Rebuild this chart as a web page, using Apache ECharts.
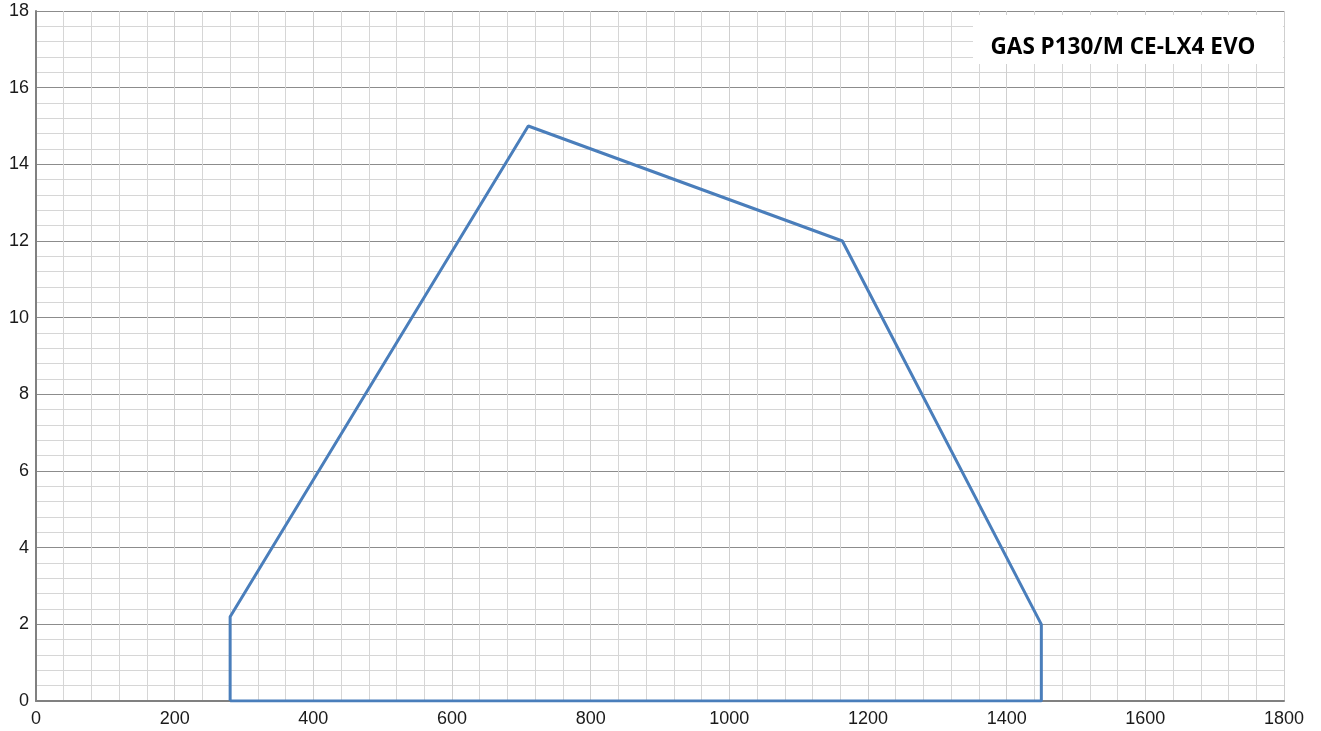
<!DOCTYPE html>
<html>
<head>
<meta charset="utf-8">
<script src="https://cdn.jsdelivr.net/npm/echarts@6/dist/echarts.min.js"></script>
<style>
  html, body { margin: 0; padding: 0; background: #fff; }
  #chart { width: 1321px; height: 731px; }
</style>
</head>
<body>
<div id="chart"></div>
<script>
  // burner working range, x = output, y = pressure
  const rangeX = [280, 280, 710, 1163, 1450, 1450, 280];
  const rangeY = [0, 2.2, 15, 12, 2, 0, 0];
  const titleText = "GAS P130/M CE-LX4 EVO";

  const points = rangeX.map((x, i) => [x, rangeY[i]]);

  const myChart = echarts.init(document.getElementById("chart"));
  const option = {
    animation: false,
    grid: {
      left: 36,
      right: 37,
      top: 11,
      bottom: 30,
    },
    xAxis: {
      type: "value",
      min: 0,
      max: 1800,
      interval: 200,
      axisLine: { show: true, lineStyle: { color: "#808080", width: 2 } },
      axisTick: { show: false },
      axisLabel: {
        color: "#1a1a1a",
        fontSize: 18,
        fontFamily: "Liberation Sans",
        margin: 9,
        formatter: (v) => String(v),
      },
      splitLine: { show: true, lineStyle: { color: "#cfcfcf", width: 1 } },
      minorTick: { show: false, splitNumber: 5 },
      minorSplitLine: { show: true, lineStyle: { color: "#d6d6d6", width: 1 } },
    },
    yAxis: {
      type: "value",
      min: 0,
      max: 18,
      interval: 2,
      axisLine: { show: true, lineStyle: { color: "#808080", width: 2 } },
      axisTick: { show: false },
      axisLabel: {
        color: "#1a1a1a",
        fontSize: 18,
        fontFamily: "Liberation Sans",
        margin: 7,
        formatter: (v) => String(v),
      },
      splitLine: { show: true, lineStyle: { color: "#8c8c8c", width: 1 } },
      minorTick: { show: false, splitNumber: 5 },
      minorSplitLine: { show: true, lineStyle: { color: "#d6d6d6", width: 1 } },
    },
    graphic: [
      {
        type: "rect",
        shape: { x: 973, y: 15, width: 310, height: 49 },
        style: { fill: "#fff" },
        z: 10,
      },
      {
        type: "text",
        x: 1123,
        y: 48,
        z: 11,
        style: {
          text: titleText,
          fill: "#000",
          font: "bold 22.5px 'Open Sans'",
          textAlign: "center",
          textVerticalAlign: "middle",
        },
      },
    ],
    series: [
      {
        type: "line",
        data: points,
        showSymbol: false,
        lineStyle: { color: "#4a7ebb", width: 3 },
        z: 5,
      },
    ],
  };
  myChart.setOption(option);
</script>
</body>
</html>
